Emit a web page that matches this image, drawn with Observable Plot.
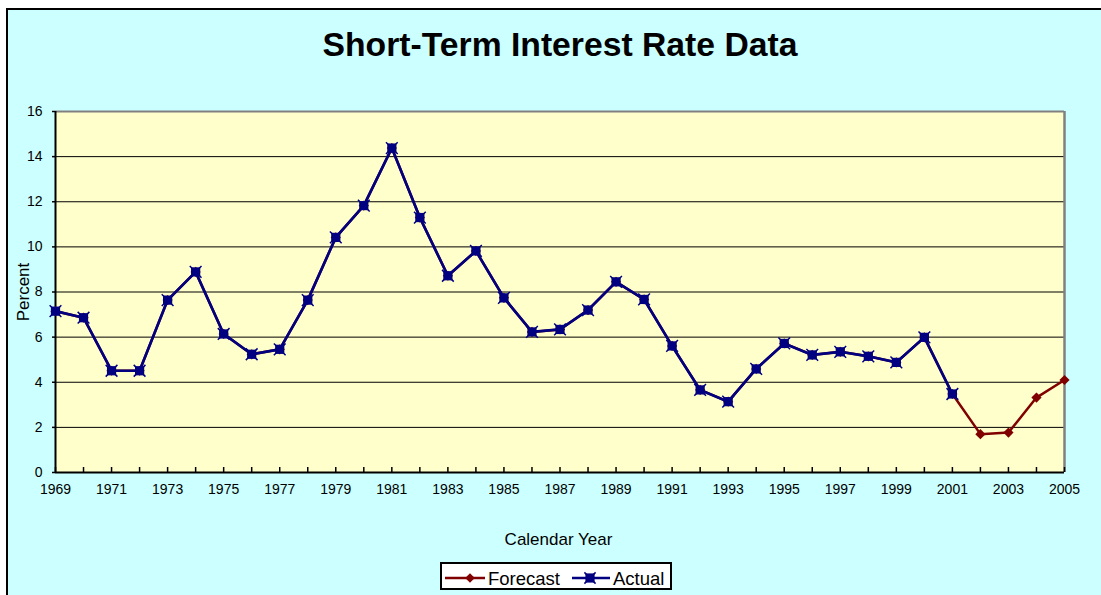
<!DOCTYPE html>
<html>
<head>
<meta charset="utf-8">
<script src="https://cdn.jsdelivr.net/npm/d3@7"></script>
<script src="https://cdn.jsdelivr.net/npm/@observablehq/plot@0.6"></script>
<style>
  html, body { margin: 0; padding: 0; background: #fff; }
  body { width: 1101px; height: 595px; overflow: hidden; position: relative; font-family: "Liberation Sans", Arial, sans-serif; }
  #panel { position: absolute; left: 6px; top: 8px; width: 1095px; height: 587px; background: #CCFFFF; border-left: 2px solid #000; border-top: 2px solid #000; box-sizing: border-box; }
  #title { position: absolute; left: 10px; width: 1100px; top: 28px; text-align: center; font-weight: bold; font-size: 33.7px; line-height: 33.7px; color: #000; white-space: nowrap; }
  #chart { position: absolute; left: 8px; top: 100px; }
  #xlabel { position: absolute; left: 0; width: 1117px; top: 531px; text-align: center; font-size: 17px; line-height: 17px; color: #000; }
  #legend { position: absolute; left: 440px; top: 562px; width: 232px; height: 28px; box-sizing: border-box; border: 2px solid #000; background: #fff; }
  #legend .sw { position: absolute; top: 0; }
  #legend .lt { position: absolute; top: 6px; font-size: 18.5px; line-height: 18.5px; color: #000; white-space: nowrap; }
</style>
</head>
<body>
<div id="panel"></div>
<div id="title">Short-Term Interest Rate Data</div>
<div id="chart"></div>
<div id="xlabel">Calendar Year</div>
<div id="legend"></div>
<script>
// ---- data ----
const years = [1969,1970,1971,1972,1973,1974,1975,1976,1977,1978,1979,1980,1981,1982,1983,1984,1985,1986,1987,1988,1989,1990,1991,1992,1993,1994,1995,1996,1997,1998,1999,2000,2001,2002,2003,2004,2005];
const actualRates = [7.15,6.86,4.51,4.51,7.64,8.89,6.14,5.24,5.46,7.64,10.42,11.83,14.38,11.30,8.72,9.82,7.74,6.23,6.34,7.20,8.45,7.67,5.61,3.66,3.14,4.59,5.72,5.21,5.35,5.15,4.88,5.99,3.48];
const forecastRates = [7.15,6.86,4.51,4.51,7.64,8.89,6.14,5.24,5.46,7.64,10.42,11.83,14.38,11.30,8.72,9.82,7.74,6.23,6.34,7.20,8.45,7.67,5.61,3.66,3.14,4.59,5.72,5.21,5.35,5.15,4.88,5.99,3.48,1.70,1.77,3.32,4.10];
const xTickLabels = [1969,1971,1973,1975,1977,1979,1981,1983,1985,1987,1989,1991,1993,1995,1997,1999,2001,2003,2005];
const yTicks = [0,2,4,6,8,10,12,14,16];
const yGrid = [2,4,6,8,10,12,14];
const seriesNames = ["Forecast", "Actual"];

const forecastColor = "#800000";
const actualColor = "#000080";

const actual = actualRates.map((v, i) => ({year: years[i], rate: v}));
const forecast = forecastRates.map((v, i) => ({year: years[i], rate: v}));

const chart = Plot.plot({
  width: 1093,
  height: 400,
  marginLeft: 47,
  marginRight: 37,
  marginTop: 11,
  marginBottom: 28,
  style: { background: "transparent", fontFamily: "'Liberation Sans', Arial, sans-serif", fontSize: "14px", color: "#000", overflow: "visible" },
  x: { domain: [1969, 2005] },
  y: { domain: [0, 16] },
  marks: [
    Plot.frame({ fill: "#FFFFCC", stroke: null }),
    Plot.ruleY(yGrid, { stroke: "#000", strokeWidth: 1 }),
    Plot.ruleY([16], { stroke: "#808080", strokeWidth: 2 }),
    Plot.ruleX([2005], { stroke: "#808080", strokeWidth: 2.5 }),
    Plot.ruleX([1969], { stroke: "#000", strokeWidth: 2 }),
    Plot.ruleY([0], { stroke: "#000", strokeWidth: 2 }),
    Plot.axisX({ ticks: years, tickSize: -5, tickFormat: () => "", label: null, strokeWidth: 1.5 }),
    Plot.axisX({ ticks: xTickLabels, tickSize: 0, tickPadding: 12, tickFormat: d => String(d), label: null, fontSize: 14 }),
    Plot.axisY({ ticks: yTicks, tickSize: 3, tickPadding: 10, label: null, fontSize: 14, strokeWidth: 1.5 }),
    Plot.text(["Percent"], { frameAnchor: "left", textAnchor: "middle", dx: -32, rotate: -90, fontSize: 17, fill: "#000" }),
    Plot.line(forecast, { x: "year", y: "rate", stroke: forecastColor, strokeWidth: 2.5 }),
    Plot.dot(forecast, { x: "year", y: "rate", symbol: "diamond2", r: 4.6, fill: forecastColor, stroke: null }),
    Plot.line(actual, { x: "year", y: "rate", stroke: actualColor, strokeWidth: 2.7 }),
    Plot.dot(actual, { x: "year", y: "rate", symbol: "square", r: 5.2, fill: actualColor, stroke: null }),
    Plot.dot(actual, { x: "year", y: "rate", symbol: "times", r: 5.4, stroke: actualColor, strokeWidth: 1.5 })
  ]
});
document.getElementById("chart").appendChild(chart);

// ---- legend ----
const legend = document.getElementById("legend");
const ns = "http://www.w3.org/2000/svg";
function swatch(left, width, color, markerX, kind) {
  const s = document.createElementNS(ns, "svg");
  s.setAttribute("width", width);
  s.setAttribute("height", 24);
  s.setAttribute("class", "sw");
  s.style.left = left + "px";
  const ln = document.createElementNS(ns, "line");
  ln.setAttribute("x1", 0); ln.setAttribute("x2", width);
  ln.setAttribute("y1", 14); ln.setAttribute("y2", 14);
  ln.setAttribute("stroke", color); ln.setAttribute("stroke-width", 2.5);
  s.appendChild(ln);
  if (kind === "diamond") {
    const p = document.createElementNS(ns, "path");
    p.setAttribute("d", `M${markerX},9.2L${markerX + 4.8},14L${markerX},18.8L${markerX - 4.8},14Z`);
    p.setAttribute("fill", color);
    s.appendChild(p);
  } else {
    const r = document.createElementNS(ns, "rect");
    r.setAttribute("x", markerX - 4.6); r.setAttribute("y", 9.4);
    r.setAttribute("width", 9.2); r.setAttribute("height", 9.2);
    r.setAttribute("fill", color);
    s.appendChild(r);
    const x = document.createElementNS(ns, "path");
    x.setAttribute("d", `M${markerX - 5.6},8.4L${markerX + 5.6},19.6M${markerX + 5.6},8.4L${markerX - 5.6},19.6`);
    x.setAttribute("stroke", color); x.setAttribute("stroke-width", 1.5);
    s.appendChild(x);
  }
  legend.appendChild(s);
}
function label(left, text) {
  const d = document.createElement("div");
  d.className = "lt";
  d.style.left = left + "px";
  d.textContent = text;
  legend.appendChild(d);
}
// positions relative to legend inner box (box at 440 + 2px border)
swatch(3, 40, forecastColor, 25, "diamond");
label(46, seriesNames[0]);
swatch(130, 38, actualColor, 18, "square");
label(171, seriesNames[1]);
</script>
</body>
</html>
